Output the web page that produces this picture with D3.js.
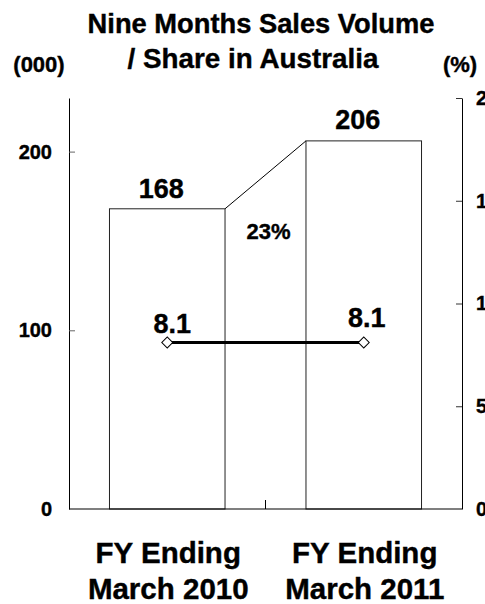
<!DOCTYPE html>
<html>
<head>
<meta charset="utf-8">
<script src="https://cdn.jsdelivr.net/npm/d3@7"></script>
<style>
  html, body { margin: 0; padding: 0; background: #fff; }
  svg { display: block; font-family: Arial, "Liberation Sans", sans-serif; font-weight: bold; }
  svg text { stroke: #000; stroke-width: 0.4px; }
</style>
</head>
<body>
<svg id="chart" width="485" height="604"></svg>
<script>
// ---- data ----
const categories = [["FY Ending", "March 2010"], ["FY Ending", "March 2011"]];
const categoryKeys = ["FY2010", "FY2011"];
const salesVolume = [168, 206];          // (000)
const marketShare = [8.1, 8.1];           // (%)
const growthLabel = "23%";
const leftTicks = [0, 100, 200];
const rightTicks = [0, 5, 10, 15, 20];
const leftMax = 230;
const rightMax = 20;
const titleLines = ["Nine Months Sales Volume", "/ Share in Australia"];
const leftUnit = "(000)";
const rightUnit = "(%)";

// ---- layout ----
const svg = d3.select("#chart");
const pL = 69, pR = 462, pT = 98, pB = 509;

const x = d3.scaleBand().domain(categoryKeys).range([pL, pR])
  .paddingInner(0.412).paddingOuter(0.206);
const yL = d3.scaleLinear().domain([0, leftMax]).range([pB, pT]);
const yR = d3.scaleLinear().domain([0, rightMax]).range([pB, pT]);

function label(txt, X, Y, size, anchor) {
  return svg.append("text").attr("x", X).attr("y", Y)
    .attr("font-size", size).attr("text-anchor", anchor || "middle")
    .attr("fill", "#000").text(txt);
}

// title
label(titleLines[0], 261, 33, 27.3);
label(titleLines[1], 253, 68, 27.8);
label(leftUnit, 39, 72, 22);
label(rightUnit, 460, 72, 22);

// bars
const data = categoryKeys.map((k, i) => ({ k, v: salesVolume[i], s: marketShare[i] }));
svg.append("g").selectAll("rect").data(data).join("rect")
  .attr("x", d => x(d.k)).attr("y", d => yL(d.v))
  .attr("width", x.bandwidth()).attr("height", d => yL(0) - yL(d.v))
  .attr("fill", "#fff").attr("stroke", "#222").attr("stroke-width", 1);

// connector between bar tops
svg.append("line")
  .attr("x1", x(categoryKeys[0]) + x.bandwidth()).attr("y1", yL(salesVolume[0]))
  .attr("x2", x(categoryKeys[1])).attr("y2", yL(salesVolume[1]))
  .attr("stroke", "#000").attr("stroke-width", 1);

// axes
const gL = svg.append("g").attr("transform", `translate(${pL},0)`)
  .call(d3.axisLeft(yL).tickValues(leftTicks).tickSize(-6).tickSizeOuter(0).tickPadding(17));
gL.select(".domain").attr("stroke", "#000");
gL.selectAll(".tick line").attr("stroke", "#666");
gL.selectAll(".tick").filter(d => d === 0).select("line").remove();
gL.selectAll(".tick text").attr("font-size", 20).attr("font-family", null).attr("fill", "#000");

const gR = svg.append("g").attr("transform", `translate(${pR},0)`)
  .call(d3.axisRight(yR).tickValues(rightTicks).tickSize(-6).tickSizeOuter(0).tickPadding(14));
gR.select(".domain").attr("stroke", "#000");
gR.selectAll(".tick line").attr("stroke", "#333");
gR.selectAll(".tick").filter(d => d === 0).select("line").remove();
gR.selectAll(".tick text").attr("font-size", 20).attr("font-family", null).attr("fill", "#000");

// x axis baseline with a middle tick between categories
svg.append("line").attr("x1", pL).attr("x2", pR).attr("y1", pB).attr("y2", pB)
  .attr("stroke", "#000").attr("stroke-width", 1.2);
svg.append("line").attr("x1", (pL + pR) / 2).attr("x2", (pL + pR) / 2)
  .attr("y1", pB - 9).attr("y2", pB).attr("stroke", "#000");

// category labels
data.forEach((d, i) => {
  const cx = x(d.k) + x.bandwidth() / 2;
  label(categories[i][0], cx + 1, 563, 29.5);
  label(categories[i][1], cx + 1, 599, 29.5);
});

// bar value labels
const valOff = [[-6, -11], [-6, -12]];
data.forEach((d, i) => {
  label(String(d.v), x(d.k) + x.bandwidth() / 2 + valOff[i][0], yL(d.v) + valOff[i][1], 27);
});

// growth label
label(growthLabel, (pL + pR) / 2 + 3, 239, 22);

// share line
const line = d3.line().x(d => x(d.k) + x.bandwidth() / 2).y(d => yR(d.s));
svg.append("path").datum(data).attr("d", line)
  .attr("fill", "none").attr("stroke", "#000").attr("stroke-width", 3);
svg.append("g").selectAll("path").data(data).join("path")
  .attr("d", d3.symbol(d3.symbolSquare, 60)())
  .attr("transform", d => `translate(${x(d.k) + x.bandwidth() / 2},${yR(d.s)}) rotate(45)`)
  .attr("fill", "#fff").attr("stroke", "#000").attr("stroke-width", 1);

const shareOff = [[5, -10], [3, -16]];
data.forEach((d, i) => {
  label(String(d.s), x(d.k) + x.bandwidth() / 2 + shareOff[i][0], yR(d.s) + shareOff[i][1], 27);
});
</script>
</body>
</html>
